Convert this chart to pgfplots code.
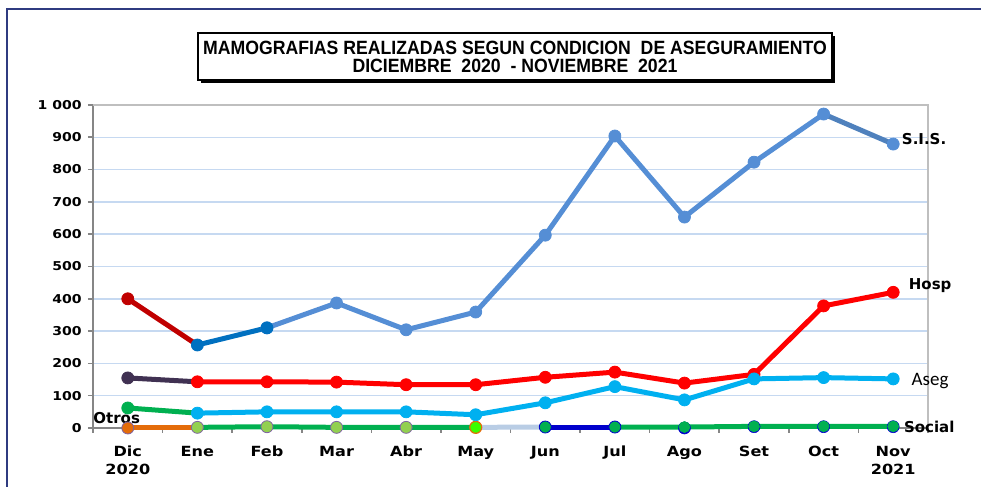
\documentclass[border=0pt]{standalone}
\usepackage{fontspec}
\setmainfont{Liberation Sans}
\newfontfamily\tickfont[FakeStretch=1.15]{DejaVu Sans}
\newfontfamily\labfont{DejaVu Sans}
\newfontfamily\titlefont[FakeStretch=0.92]{Liberation Sans}
\newfontfamily\asegfont{Carlito}
\usepackage{pgfplots}
\pgfplotsset{compat=1.18}
\definecolor{sis}{HTML}{558ED5}
\definecolor{sisdark}{HTML}{0070C0}
\definecolor{sisend}{HTML}{4F81BD}
\definecolor{darkred}{HTML}{C00000}
\definecolor{hosp}{HTML}{FF0000}
\definecolor{hospdic}{HTML}{403152}
\definecolor{aseg}{HTML}{00B0F0}
\definecolor{green1}{HTML}{00B050}
\definecolor{lgreen}{HTML}{92D050}
\definecolor{otros}{HTML}{E46C0A}
\definecolor{purp}{HTML}{7F64A2}
\definecolor{lblue}{HTML}{B9CDE5}
\definecolor{dblue}{HTML}{0000CC}
\definecolor{axisgray}{HTML}{868686}
\definecolor{boxgray}{HTML}{BFBFBF}
\definecolor{gridblue}{HTML}{C6D9F1}
\definecolor{frame}{HTML}{2F3B80}
\begin{document}
\begin{tikzpicture}
\path[use as bounding box] (0,0) rectangle (490.5pt,243.5pt);
\draw[frame, line width=1pt] (3.5pt,0pt) -- (3.5pt,239pt) -- (490.5pt,239pt);
% title
\fill[black] (100.5pt,202pt) rectangle (417.5pt,225.5pt);
\draw[black, fill=white, line width=0.6pt] (99pt,203.5pt) rectangle (416pt,227pt);
\node[anchor=base, inner sep=0pt, font=\titlefont\bfseries\fontsize{9.6}{11}\selectfont] at (257.5pt,216.25pt) {MAMOGRAFIAS REALIZADAS SEGUN CONDICION \ DE ASEGURAMIENTO};
\node[anchor=base, inner sep=0pt, font=\titlefont\bfseries\fontsize{9.6}{11}\selectfont] at (257.5pt,207.25pt) {DICIEMBRE \ 2020 \ - NOVIEMBRE \ 2021};
\begin{axis}[
  at={(46.5pt,29.5pt)}, anchor=south west, scale only axis,
  width=417.5pt, height=161.5pt,
  xmin=-0.5, xmax=11.5, ymin=0, ymax=1000,
  axis x line*=bottom, axis y line*=left,
  axis line style={draw=axisgray, line width=1pt, -},
  xtick={0,...,11},
  xticklabels={Dic\\2020,Ene,Feb,Mar,Abr,May,Jun,Jul,Ago,Set,Oct,Nov\\2021},
  typeset ticklabels with strut,
  xticklabel style={font=\tickfont\bfseries\fontsize{7}{9}\selectfont, align=center, anchor=north, inner sep=0pt, yshift=-5.5pt},
  major x tick style={draw=none},
  minor xtick={-0.5,0.5,...,11.5},
  minor x tick style={draw=axisgray, line width=0.8pt},
  minor tick length=2.5pt,
  ytick={0,100,...,1000},
  yticklabels={0,100,200,300,400,500,600,700,800,900,1 000},
  yticklabel style={font=\tickfont\bfseries\fontsize{6.1}{7}\selectfont, anchor=east, inner sep=0pt, xshift=-3pt, yshift=-0.8pt},
  major y tick style={draw=axisgray, line width=0.8pt},
  tick align=outside, major tick length=2.5pt,
  ymajorgrids, grid style={gridblue, line width=0.75pt},
  clip=false,
  every axis plot/.append style={line width=2.5pt},
]
\draw[boxgray, line width=0.8pt] (rel axis cs:0,1) -- (rel axis cs:1,1) -- (rel axis cs:1,0);
% Otros
\addplot[otros, mark=*, mark size=3pt, mark options={fill=otros, draw=purp, line width=0.4pt}, mark indices={1}] coordinates {(0,0) (1,0)};
% Social / low series
\addplot[green1, mark=*, mark size=3pt, mark options={fill=lgreen, draw=purp, line width=0.4pt}, mark indices={1,2,3,4}] coordinates {(1,2) (2,4) (3,2) (4,2) (5,2)};
\addplot[lblue, mark=none] coordinates {(5,2) (6,3)};
\addplot[dblue, mark=*, mark size=3pt, mark options={fill=green1, draw=dblue, line width=0.4pt}] coordinates {(6,3) (7,3)};
\addplot[dblue, only marks, mark=*, mark size=3pt, mark options={fill=dblue, draw=dblue, line width=0.3pt}] coordinates {(8,0) (9,4) (10,4) (11,4)};
\addplot[green1, mark=*, mark size=2.8pt, mark options={fill=green1, draw=green1, line width=0.2pt}, mark indices={2,3,4,5}] coordinates {(7,3) (8,3) (9,5) (10,5) (11,5)};
\addplot[only marks, mark=*, mark size=3pt, mark options={fill=green!70!lime, draw=otros, line width=0.6pt}] coordinates {(5,2)};
% Hosp
\addplot[hospdic, mark=*, mark size=3pt, mark options={fill=hospdic, draw=hospdic, line width=0.4pt}, mark indices={1}] coordinates {(0,155) (1,143)};
\addplot[hosp, mark=*, mark size=3pt, mark options={fill=hosp, draw=hosp, line width=0.4pt}] coordinates {(1,143) (2,143) (3,142) (4,134) (5,134) (6,157) (7,173) (8,139) (9,166) (10,378) (11,420)};
% Aseg
\addplot[green1, mark=*, mark size=3pt, mark options={fill=green1, draw=green1, line width=0.4pt}, mark indices={1}] coordinates {(0,62) (1,46)};
\addplot[aseg, mark=*, mark size=3pt, mark options={fill=aseg, draw=aseg, line width=0.4pt}] coordinates {(1,46) (2,50) (3,50) (4,50) (5,41) (6,78) (7,128) (8,87) (9,152) (10,156) (11,152)};
% S.I.S.
\addplot[sis, mark=*, mark size=3pt, mark options={fill=sis, draw=sis, line width=0.4pt}] coordinates {(2,310) (3,387) (4,304) (5,359) (6,597) (7,904) (8,653) (9,823) (10,972)};
\addplot[sisend, mark=*, mark size=3pt, mark options={fill=sis, draw=sis, line width=0.4pt}, mark indices={2}] coordinates {(10,972) (11,879)};
\addplot[darkred, mark=*, mark size=3pt, mark options={fill=darkred, draw=darkred, line width=0.4pt}, mark indices={1}] coordinates {(0,400) (1,257)};
\addplot[sisdark, mark=*, mark size=3pt, mark options={fill=sisdark, draw=sisdark, line width=0.4pt}] coordinates {(1,257) (2,310)};
% labels
\node[anchor=west, inner sep=0pt, font=\labfont\bfseries\fontsize{7.5}{8}\selectfont] at (axis cs:11.12,895) {S.I.S.};
\node[anchor=west, inner sep=0pt, font=\labfont\bfseries\fontsize{7.5}{8}\selectfont] at (axis cs:11.22,440) {Hosp};
\node[anchor=west, inner sep=0pt, font=\asegfont\fontsize{9.5}{10}\selectfont] at (axis cs:11.26,146) {Aseg};
\node[anchor=west, inner sep=0pt, font=\labfont\bfseries\fontsize{7.5}{8}\selectfont] at (axis cs:11.15,2) {Social};
\node[anchor=west, inner sep=0pt, font=\labfont\bfseries\fontsize{7.5}{8}\selectfont] at (axis cs:-0.5,31) {Otros};
\end{axis}
\end{tikzpicture}
\end{document}
